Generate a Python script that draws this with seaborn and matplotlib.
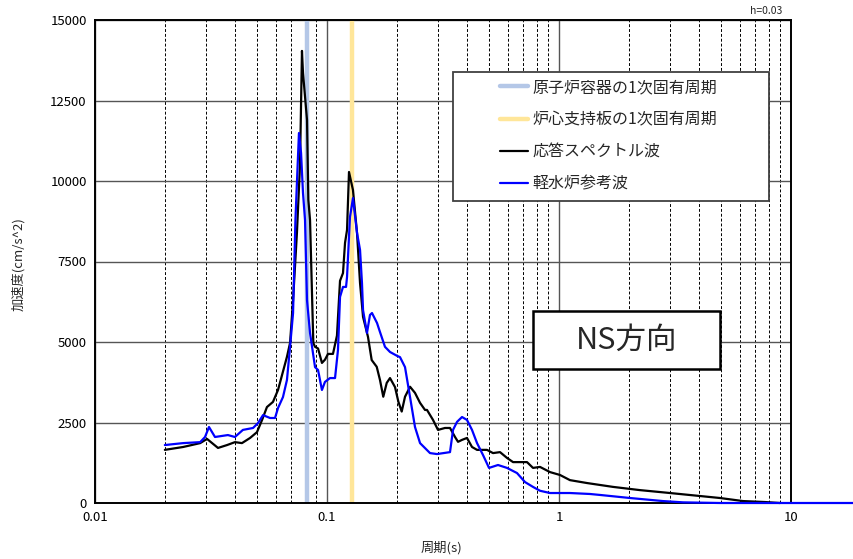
import numpy as np
import pandas as pd
import seaborn as sns
import matplotlib
matplotlib.use("Agg")
import matplotlib.pyplot as plt
from matplotlib.ticker import LogLocator, FixedLocator, NullFormatter
from matplotlib.lines import Line2D
from matplotlib.patches import Rectangle

# 応答スペクトル波 (周期 s, 加速度 cm/s^2)
resp_period = [0.0200, 0.0240, 0.0284, 0.0304, 0.0339, 0.0371, 0.0401, 0.0430,
               0.0466, 0.0499, 0.0525, 0.0551, 0.0585, 0.0615, 0.0672, 0.0693,
               0.0714, 0.0742, 0.0765, 0.0780, 0.0788, 0.0820, 0.0831, 0.0845,
               0.0873, 0.0888, 0.0915, 0.0951, 0.0980, 0.1010, 0.1061, 0.1104,
               0.1138, 0.1172, 0.1196, 0.1220, 0.1244, 0.1294, 0.1347, 0.1388,
               0.1430, 0.1502, 0.1558, 0.1638, 0.1692, 0.1748, 0.1809, 0.1869,
               0.1964, 0.2030, 0.2099, 0.2169, 0.2280, 0.2395, 0.2518, 0.2645,
               0.2698, 0.2864, 0.3009, 0.3225, 0.3390, 0.3563, 0.3671, 0.3819,
               0.4012, 0.4217, 0.4433, 0.4894, 0.5195, 0.5569, 0.5969, 0.6337,
               0.6792, 0.7280, 0.7726, 0.8284, 0.9146, 1.010, 1.115, 1.320,
               1.710, 2.234, 3.009, 4.943, 6.211, 7.725, 8.967]
resp_accel = [1650, 1740, 1860, 1990, 1710, 1800, 1890, 1860,
              2020, 2200, 2580, 2980, 3140, 3510, 4540, 4970,
              6300, 8390, 10500, 14040, 13360, 11900, 9410, 8790,
              4970, 4850, 4800, 4350, 4450, 4630, 4630, 5200,
              6900, 7140, 8080, 8480, 10280, 9720, 8390, 6830,
              5780, 5160, 4440, 4230, 3820, 3300, 3730, 3880,
              3600, 3150, 2840, 3300, 3610, 3420, 3110, 2890,
              2890, 2580, 2270, 2330, 2330, 2050, 1900, 1960,
              2020, 1740, 1650, 1650, 1550, 1580, 1400, 1270,
              1270, 1270, 1090, 1120, 960, 870, 710, 620,
              500, 400, 310, 155, 60, 30, 0]

# 軽水炉参考波 (周期 s, 加速度 cm/s^2)
ref_period = [0.0200, 0.0240, 0.0284, 0.0298, 0.0310, 0.0329, 0.0374, 0.0401,
              0.0434, 0.0480, 0.0504, 0.0530, 0.0568, 0.0597, 0.0615, 0.0646,
              0.0672, 0.0693, 0.0714, 0.0731, 0.0757, 0.0773, 0.0788, 0.0804,
              0.0820, 0.0845, 0.0888, 0.0915, 0.0951, 0.0980, 0.1030, 0.1083,
              0.1115, 0.1138, 0.1172, 0.1208, 0.1220, 0.1256, 0.1294, 0.1347,
              0.1388, 0.1415, 0.1430, 0.1487, 0.1532, 0.1563, 0.1643, 0.1692,
              0.1778, 0.1869, 0.2004, 0.2064, 0.2169, 0.2280, 0.2395, 0.2518,
              0.2780, 0.2979, 0.3390, 0.3493, 0.3635, 0.3819, 0.4012, 0.4217,
              0.4433, 0.4704, 0.4993, 0.5459, 0.5969, 0.6592, 0.7136, 0.7726,
              0.8284, 0.9146, 1.115, 1.360, 1.502, 2.023, 2.807, 3.424,
              4.943, 20.0]
ref_accel = [1800, 1860, 1890, 2050, 2360, 2050, 2110, 2050,
             2270, 2330, 2480, 2730, 2640, 2640, 2950, 3290,
             3820, 4850, 5900, 8790, 11490, 10870, 9630, 8790,
             6300, 5280, 4220, 4130, 3510, 3760, 3880, 3880,
             4750, 6400, 6710, 6710, 7020, 8880, 9470, 8390,
             7860, 6830, 5990, 5280, 5840, 5900, 5590, 5310,
             4850, 4690, 4570, 4530, 4220, 3290, 2360, 1860,
             1550, 1520, 1580, 2270, 2520, 2670, 2580, 2270,
             1860, 1490, 1090, 1180, 1090, 930, 650, 500,
             380, 310, 310, 280, 250, 155, 60, 20,
             0, 0]

# 固有周期 (s)
rpv_period = 0.082
core_plate_period = 0.128

series_labels = ["原子炉容器の1次固有周期", "炉心支持板の1次固有周期",
                 "応答スペクトル波", "軽水炉参考波"]
y_ticks = [0, 2500, 5000, 7500, 10000, 12500, 15000]
x_ticks = [0.01, 0.1, 1, 10]
x_tick_labels = ["0.01", "0.1", "1", "10"]

sns.set_style("white")
plt.rcParams["font.family"] = ["Noto Sans CJK JP", "DejaVu Sans"]

W, H = 854, 559
fig = plt.figure(figsize=(W / 100, H / 100), dpi=100)
ax = fig.add_axes([95 / W, 1 - 503 / H, (791 - 95) / W, (503 - 20) / H])

resp = pd.DataFrame({"period": resp_period, "accel": resp_accel})
ref = pd.DataFrame({"period": ref_period, "accel": ref_accel})

c_rpv = "#b4c7e7"
c_core = "#ffe699"
c_resp = "#000000"
c_ref = "#0000ff"

ax.axvline(rpv_period, color=c_rpv, lw=3.2, zorder=2.2)
ax.axvline(core_plate_period, color=c_core, lw=3.2, zorder=2.2)

sns.lineplot(data=resp, x="period", y="accel", ax=ax, color=c_resp, lw=1.6,
             estimator=None, sort=False, zorder=3)
sns.lineplot(data=ref, x="period", y="accel", ax=ax, color=c_ref, lw=1.6,
             estimator=None, sort=False, zorder=3.1)
for ln in ax.lines[2:]:
    ln.set_clip_on(False)

ax.set_xscale("log")
ax.set_xlim(0.01, 10)
ax.set_ylim(0, 15000)
ax.xaxis.set_major_locator(FixedLocator(x_ticks))
ax.set_xticks(x_ticks)
ax.set_xticklabels(x_tick_labels)
ax.xaxis.set_minor_locator(LogLocator(base=10, subs=np.arange(2, 10)))
ax.xaxis.set_minor_formatter(NullFormatter())
ax.set_yticks(y_ticks)
ax.set_yticklabels([str(v) for v in y_ticks])
ax.tick_params(axis="both", which="both", length=0, labelsize=9.5, colors="#000000")
ax.tick_params(axis="y", pad=6)
ax.tick_params(axis="x", pad=6)

ax.grid(which="major", axis="both", color="#555555", lw=1.0, ls="-")
ax.grid(which="minor", axis="x", color="#000000", lw=0.7, ls=(0, (3, 2)))
ax.set_axisbelow(True)
for s in ax.spines.values():
    s.set_color("#000000")
    s.set_linewidth(1.4)

ax.set_xlabel("")
ax.set_ylabel("")
fig.text(441 / W, 1 - 548 / H, "周期(s)", ha="center", va="center", fontsize=9.5)
fig.text(18 / W, 1 - 264 / H, "加速度(cm/s^2)", ha="center", va="center",
         rotation=90, fontsize=9.5)
fig.text(782 / W, 1 - 11 / H, "h=0.03", ha="right", va="center", fontsize=7.5)

# 凡例の枠
frame = Rectangle((453 / W, 1 - 201 / H), (769 - 453) / W, (201 - 72) / H,
                  transform=fig.transFigure, facecolor="white",
                  edgecolor="#404040", lw=1.3, zorder=4)
ax.add_patch(frame)
frame.set_clip_on(False)

handles = [Line2D([], [], color=c_rpv, lw=3.2),
           Line2D([], [], color=c_core, lw=3.2),
           Line2D([], [], color=c_resp, lw=1.6),
           Line2D([], [], color=c_ref, lw=1.6)]
leg = ax.legend(handles, series_labels, loc="upper left",
                bbox_to_anchor=(500 / W, 1 - 79 / H), bbox_transform=fig.transFigure,
                frameon=False, fontsize=11.5, handlelength=1.75, handletextpad=0.3,
                labelspacing=0.95, borderpad=0, borderaxespad=0)
leg.set_zorder(5)

# 方向表示
box = Rectangle((533 / W, 1 - 369 / H), (720 - 533) / W, (369 - 311) / H,
                transform=fig.transFigure, facecolor="white",
                edgecolor="#000000", lw=1.8, zorder=4)
ax.add_patch(box)
box.set_clip_on(False)
fig.text(626.5 / W, 1 - 340 / H, "NS方向", ha="center", va="center",
         fontsize=22, zorder=6)

fig.savefig("out.png", dpi=100)
